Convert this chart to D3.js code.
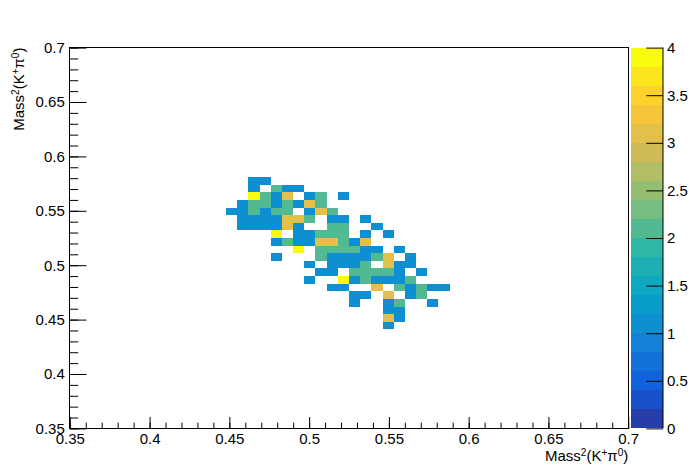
<!DOCTYPE html>
<html lang="en">
<head>
<meta charset="UTF-8">
<title>colz</title>
<script src="https://cdn.jsdelivr.net/npm/d3@7"></script>
<style>
  body { margin: 0; background: #fff; }
  text { font-family: "Liberation Sans", Arial, sans-serif; }
</style>
</head>
<body>
<div id="chart"></div>
<script>
// axis ranges and binning (50 x 50 bins)
var xRange = [0.35, 0.7];
var yRange = [0.35, 0.7];
var binW = 0.007;
var zRange = [0, 4];
var xTicks = [0.35, 0.4, 0.45, 0.5, 0.55, 0.6, 0.65, 0.7];
var yTicks = [0.35, 0.4, 0.45, 0.5, 0.55, 0.6, 0.65, 0.7];
var zTicks = [0, 0.5, 1, 1.5, 2, 2.5, 3, 3.5, 4];

// low edge of each filled row
var rowY = [0.574, 0.567, 0.560, 0.553, 0.546, 0.539, 0.532, 0.525, 0.518, 0.511,
            0.504, 0.497, 0.490, 0.483, 0.476, 0.469, 0.462, 0.455, 0.448, 0.441];
// low edges of filled bins in each row
var rowX = [
  [0.462, 0.469],
  [0.462, 0.476, 0.483, 0.490],
  [0.462, 0.469, 0.476, 0.483, 0.497, 0.504, 0.518],
  [0.455, 0.462, 0.469, 0.476, 0.483, 0.490, 0.497, 0.504],
  [0.448, 0.455, 0.462, 0.469, 0.476, 0.483, 0.497, 0.504, 0.511],
  [0.455, 0.462, 0.469, 0.476, 0.483, 0.490, 0.497, 0.511, 0.518, 0.532],
  [0.455, 0.462, 0.469, 0.476, 0.483, 0.490, 0.511, 0.518, 0.539],
  [0.476, 0.490, 0.497, 0.504, 0.511, 0.518, 0.532, 0.546],
  [0.476, 0.483, 0.490, 0.497, 0.504, 0.511, 0.518, 0.525, 0.532],
  [0.490, 0.504, 0.511, 0.518, 0.525, 0.532, 0.539, 0.553],
  [0.476, 0.504, 0.511, 0.518, 0.525, 0.532, 0.539, 0.546, 0.560],
  [0.497, 0.511, 0.518, 0.525, 0.532, 0.546, 0.553, 0.560],
  [0.504, 0.511, 0.525, 0.532, 0.539, 0.546, 0.553, 0.567],
  [0.497, 0.518, 0.525, 0.532, 0.539, 0.546, 0.553, 0.560],
  [0.511, 0.518, 0.539, 0.553, 0.560, 0.567, 0.574, 0.581],
  [0.525, 0.532, 0.546, 0.560, 0.567],
  [0.525, 0.546, 0.553, 0.574],
  [0.546, 0.553],
  [0.546, 0.553],
  [0.546]
];
// bin contents, same layout
var rowCounts = [
  [1, 1],
  [1, 2, 1, 1],
  [4, 2, 1, 3, 1, 2, 1],
  [1, 2, 2, 1, 2, 1, 3, 2],
  [1, 1, 2, 1, 2, 2, 1, 3, 2],
  [1, 1, 1, 1, 3, 3, 2, 1, 1, 1],
  [1, 1, 1, 1, 3, 1, 2, 2, 1],
  [4, 1, 1, 2, 2, 2, 1, 1],
  [1, 2, 1, 1, 3, 3, 2, 1, 3],
  [4, 2, 2, 2, 2, 1, 1, 1],
  [1, 2, 1, 1, 1, 1, 2, 3, 1],
  [1, 1, 1, 1, 2, 3, 1, 1],
  [1, 1, 2, 2, 2, 2, 1, 1],
  [1, 4, 1, 2, 1, 1, 1, 2],
  [1, 1, 3, 2, 1, 2, 1, 1],
  [1, 1, 3, 1, 2],
  [1, 1, 2, 1],
  [1, 1],
  [3, 1],
  [1]
];

var cells = [];
rowY.forEach(function (y, r) {
  rowX[r].forEach(function (x, k) {
    cells.push({x: x, y: y, v: rowCounts[r][k]});
  });
});

var width = 698, height = 476;
var frame = {left: 69.8, right: 628.2, top: 47.6, bottom: 428.4};
var nContours = 20;

// bird palette
var birdStops = [0, 0.125, 0.25, 0.375, 0.5, 0.625, 0.75, 0.875, 1];
var birdColors = ["rgb(53,42,135)", "rgb(15,92,221)", "rgb(20,129,214)", "rgb(6,164,202)",
                  "rgb(46,183,164)", "rgb(135,191,119)", "rgb(209,187,89)", "rgb(254,200,50)",
                  "rgb(249,251,14)"];
var palette = d3.scaleLinear().domain(birdStops).range(birdColors).interpolate(d3.interpolateRgb);
function bandColor(k) {
  return palette(Math.min(1, (k + 0.99) / nContours));
}
function zColor(v) {
  var k = Math.floor((v - zRange[0]) / (zRange[1] - zRange[0]) * nContours);
  if (k >= nContours) k = nContours - 1;
  return bandColor(k);
}

var svg = d3.select("#chart").append("svg")
  .attr("width", width).attr("height", height);

var xScale = d3.scaleLinear().domain(xRange).range([frame.left, frame.right]);
var yScale = d3.scaleLinear().domain(yRange).range([frame.bottom, frame.top]);

// cells
svg.append("g").attr("shape-rendering", "crispEdges")
  .selectAll("rect").data(cells).enter().append("rect")
  .attr("x", function (d) { return xScale(d.x); })
  .attr("y", function (d) { return yScale(d.y + binW); })
  .attr("width", function (d) { return xScale(d.x + binW) - xScale(d.x); })
  .attr("height", function (d) { return yScale(d.y) - yScale(d.y + binW); })
  .attr("fill", function (d) { return zColor(d.v); });

// minor ticks every 0.01
var minorX = d3.range(36).map(function (i) { return 0.35 + i * 0.01; });
var minorY = minorX;

var xMajLen = 11.4, xMinLen = 5.7, yMajLen = 16.7, yMinLen = 8.4;

var xAxis = d3.axisBottom(xScale).tickValues(xTicks).tickSize(-xMajLen).tickPadding(xMajLen + 5)
  .tickFormat(d3.format("~g"));
var gx = svg.append("g").attr("transform", "translate(0," + frame.bottom + ")").call(xAxis);
var gxm = svg.append("g").attr("transform", "translate(0," + frame.bottom + ")")
  .call(d3.axisBottom(xScale).tickValues(minorX).tickSize(-xMinLen).tickFormat(""));

var yAxis = d3.axisLeft(yScale).tickValues(yTicks).tickSize(-yMajLen).tickPadding(yMajLen + 4)
  .tickFormat(d3.format("~g"));
var gy = svg.append("g").attr("transform", "translate(" + frame.left + ",0)").call(yAxis);
var gym = svg.append("g").attr("transform", "translate(" + frame.left + ",0)")
  .call(d3.axisLeft(yScale).tickValues(minorY).tickSize(-yMinLen).tickFormat(""));

[gx, gxm, gy, gym].forEach(function (g) {
  g.select(".domain").remove();
  g.selectAll("line").attr("stroke", "#000").attr("stroke-width", 1);
  g.selectAll("text").attr("fill", "#000").style("font-size", "15px")
    .style("font-family", "'Liberation Sans', Arial, sans-serif");
});
gx.selectAll("text").attr("dy", "0.71em").attr("y", 5);
gy.selectAll("text").attr("x", -5);

// frame
svg.append("rect")
  .attr("x", frame.left).attr("y", frame.top)
  .attr("width", frame.right - frame.left).attr("height", frame.bottom - frame.top)
  .attr("fill", "none").attr("stroke", "#000").attr("stroke-width", 1)
  .attr("shape-rendering", "crispEdges");

// colour bar
var bar = {x0: 631, x1: 663};
var zScale = d3.scaleLinear().domain(zRange).range([frame.bottom, frame.top]);
var bandStep = (zRange[1] - zRange[0]) / nContours;
svg.append("g").attr("shape-rendering", "crispEdges")
  .selectAll("rect").data(d3.range(nContours)).enter().append("rect")
  .attr("x", bar.x0)
  .attr("width", bar.x1 - bar.x0)
  .attr("y", function (k) { return zScale(zRange[0] + (k + 1) * bandStep); })
  .attr("height", function (k) { return zScale(zRange[0] + k * bandStep) - zScale(zRange[0] + (k + 1) * bandStep); })
  .attr("fill", function (k) { return bandColor(k); });

var zAxis = d3.axisRight(zScale).tickValues(zTicks).tickSize(-yMajLen).tickPadding(4)
  .tickFormat(d3.format("~g"));
var gz = svg.append("g").attr("transform", "translate(" + bar.x1 + ",0)").call(zAxis);
gz.selectAll("line").attr("stroke", "#000");
gz.select(".domain").attr("d", "M0," + frame.top + "V" + frame.bottom).attr("stroke", "#000");
gz.selectAll("text").attr("x", 4).attr("fill", "#000").style("font-size", "15px")
  .style("font-family", "'Liberation Sans', Arial, sans-serif");

// axis titles
function title(sel) {
  sel.append("tspan").text("Mass");
  sel.append("tspan").attr("baseline-shift", "super").style("font-size", "10px").text("2");
  sel.append("tspan").text("(K");
  sel.append("tspan").attr("baseline-shift", "super").style("font-size", "10px").text("+");
  sel.append("tspan").text("π");
  sel.append("tspan").attr("baseline-shift", "super").style("font-size", "10px").text("0");
  sel.append("tspan").text(")");
}
svg.append("text")
  .attr("x", frame.right).attr("y", 461)
  .attr("text-anchor", "end").style("font-size", "15px").attr("fill", "#000")
  .call(title);
svg.append("text")
  .attr("transform", "translate(24," + frame.top + ") rotate(-90)")
  .attr("text-anchor", "end").style("font-size", "15px").attr("fill", "#000")
  .call(title);
</script>
</body>
</html>
